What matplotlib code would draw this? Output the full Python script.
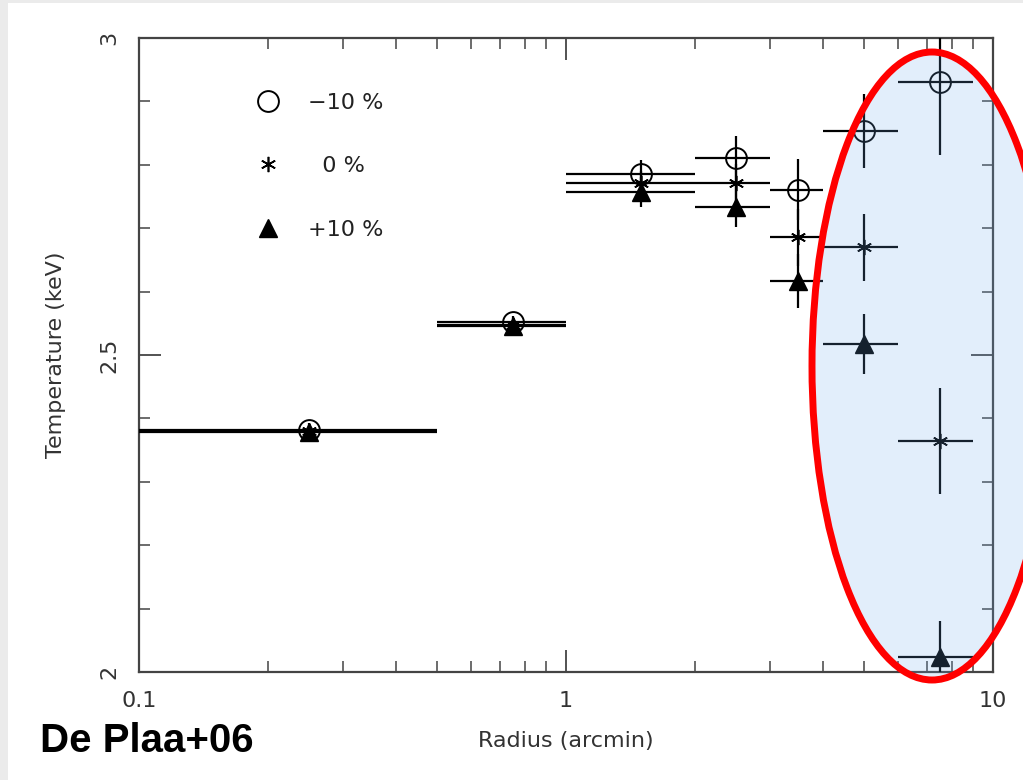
import matplotlib
matplotlib.use("Agg")
import matplotlib.pyplot as plt
from matplotlib.patches import Ellipse, Rectangle
import numpy as np

# bins en radio (arcmin)
r_centro = [0.25, 0.75, 1.5, 2.5, 3.5, 5.0, 7.5]
r_bajo = [0.01, 0.5, 1.0, 2.0, 3.0, 4.0, 6.0]
r_alto = [0.5, 1.0, 2.0, 3.0, 4.0, 6.0, 9.0]

# temperaturas (keV) para cada caso
t_menos10 = [2.382, 2.552, 2.785, 2.810, 2.761, 2.853, 2.930]
e_menos10 = [0.010, 0.010, 0.023, 0.035, 0.048, 0.058, 0.115]
t_cero = [2.380, 2.548, 2.771, 2.771, 2.686, 2.670, 2.364]
e_cero = [0.010, 0.010, 0.020, 0.030, 0.045, 0.053, 0.084]
t_mas10 = [2.378, 2.545, 2.757, 2.734, 2.617, 2.517, 2.024]
e_mas10 = [0.010, 0.010, 0.023, 0.032, 0.043, 0.047, 0.057]

etiquetas = ["\u221210 %", "  0 %", "+10 %"]

fig = plt.figure(figsize=(10.23, 7.80), dpi=100, facecolor="#ebebeb")
fig.patches.append(Rectangle((8 / 1023, 0), 1, 1 - 3 / 780, transform=fig.transFigure,
                             facecolor="white", edgecolor="none", zorder=-10))
ax = fig.add_axes([139 / 1023, 1 - 672 / 780, (993 - 139) / 1023, (672 - 38) / 780])
ax.set_facecolor("none")

x = np.array(r_centro)
xerr = [x - np.array(r_bajo), np.array(r_alto) - x]

estilos = [
    (t_menos10, e_menos10, dict(marker="o", ms=15, mfc="none", mec="black", mew=1.4)),
    (t_cero, e_cero, dict(marker=(6, 2, 0), ms=11, mec="black", mew=1.2)),
    (t_mas10, e_mas10, dict(marker="^", ms=13, mfc="black", mec="black")),
]
for (t, e, est), lab in zip(estilos, etiquetas):
    ax.errorbar(x, t, yerr=e, xerr=xerr, fmt="none", ecolor="black", elinewidth=1.6,
                capsize=0, zorder=3)
    ax.plot(x, t, ls="none", color="black", label=lab, zorder=4, **est)

ax.set_xscale("log")
ax.set_xlim(0.1, 10)
ax.set_ylim(2, 3)
ax.set_yticks([2, 2.5, 3])
ax.set_yticks(np.arange(2, 3.01, 0.1), minor=True)
ax.set_xticks([0.1, 1, 10])
ax.set_xticklabels(["0.1", "1", "10"])
ax.set_yticklabels(["2", "2.5", "3"], rotation=90, va="center")

for s in ax.spines.values():
    s.set_color("#444444")
    s.set_linewidth(1.6)
ax.tick_params(which="both", direction="in", top=True, right=True, colors="#444444",
               labelcolor="#333333", labelsize=16)
ax.tick_params(which="major", length=16, width=1.3, pad=14)
ax.tick_params(which="minor", length=8, width=1.1)
ax.tick_params(axis="y", pad=14)

ax.set_xlabel("Radius (arcmin)", fontsize=16, color="#333333", labelpad=14)
ax.set_ylabel("Temperature (keV)", fontsize=16, color="#333333", labelpad=24)

leg = ax.legend(loc="upper left", bbox_to_anchor=(0.115, 0.945), frameon=False, fontsize=16,
                handlelength=1.0, handletextpad=1.3, labelspacing=1.95, numpoints=1)
for txt in leg.get_texts():
    txt.set_color("#222222")

# elipse resaltando los bins externos
fondo = Ellipse((932 / 1023, 1 - 366 / 780), 240 / 1023, 628 / 780, transform=fig.transFigure,
                facecolor=(110 / 255, 170 / 255, 235 / 255), alpha=0.2, edgecolor="none",
                zorder=10)
borde = Ellipse((932 / 1023, 1 - 366 / 780), 240 / 1023, 628 / 780, transform=fig.transFigure,
                facecolor="none", edgecolor="red", linewidth=5, zorder=11)
fig.patches.append(fondo)
fig.patches.append(borde)

fig.text(40 / 1023, 1 - 752 / 780, "De Plaa+06", fontsize=29, fontweight="bold",
         family="Liberation Sans", color="black", va="baseline")

fig.savefig("out.png", dpi=100, facecolor=fig.get_facecolor())
